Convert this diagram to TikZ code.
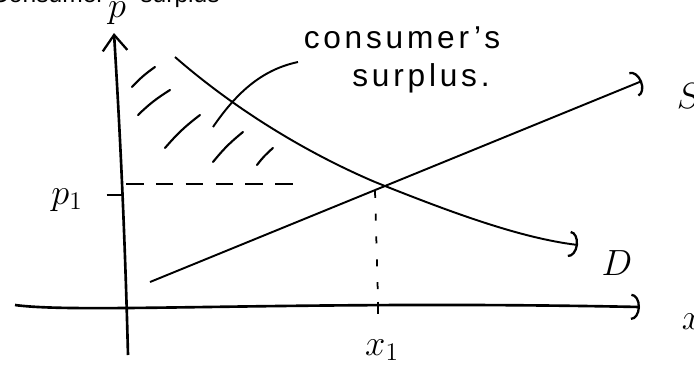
\documentclass[tikz,border=0pt]{standalone}
\usepackage{fontspec}
\setsansfont{Liberation Sans}
\usetikzlibrary{arrows.meta,positioning}
\tikzset{
  axisline/.style={line width=1.5pt},
  curveline/.style={line width=1.1pt},
  arcend/.style={-{Arc Barb[length=5pt,width=15pt,line width=1.3pt]}},
  guide/.style={line width=1pt,dash pattern=on 10pt off 7pt},
  dropguide/.style={line width=1pt,dash pattern=on 4pt off 9pt},
  hatch/.style={line width=1.2pt,line cap=round},
  hand/.style={font=\sffamily\fontsize{18}{20}\selectfont\addfontfeatures{LetterSpace=12}},
  captiontext/.style={font=\sffamily\fontsize{14}{16}\selectfont,inner sep=0pt},
  axislabel/.style={font=\fontsize{20}{22}\selectfont}
}
\newcommand{\hatchstroke}[4]{\draw[hatch] (#1,#2) to[bend left=6] (#3,#4);}

\begin{document}
\begin{tikzpicture}[x=0.02cm,y=-0.02cm]
\useasboundingbox (0,0) rectangle (694,370);
\clip (0,0) rectangle (694,370);
\node[captiontext,anchor=base east] (caption1) at (105,2) {Consumer};
\node[captiontext,anchor=base west] (caption2) at (140,2) {surplus};
\coordinate (ybot) at (128,355);
\coordinate (ytop) at (114,33);
\coordinate (xleft) at (15,305);
\coordinate (xright) at (640,307);
\coordinate (eq) at (375,182);
\coordinate (dstart) at (175,57);
\coordinate (dend) at (578,245);
\coordinate (sstart) at (150,282);
\coordinate (send) at (642,81);
\coordinate (pone) at (119,195);
\coordinate (xone) at (378,307);
\draw[axisline,-{Straight Barb[length=9pt,width=14pt,line width=1.3pt]}] (ybot) .. controls (124,200) and (118,100) .. (ytop);
\draw[axisline,arcend] (xleft) .. controls (80,314) and (300,300) .. (xright);
\draw[line width=1.2pt] ([xshift=-7pt]pone) -- ([xshift=3pt]pone);
\draw[line width=1.2pt] ([yshift=3pt]xone) -- ([yshift=-4pt]xone);
\draw[curveline] (dstart) .. controls (230,105) and (300,150) .. (eq);
\draw[curveline,arcend] (eq) .. controls (450,212) and (520,238) .. (dend);
\draw[curveline,arcend] (sstart) -- (send);
\coordinate (dashstart) at (126,184);
\coordinate (dashend) at (305,184);
\draw[guide] (dashstart) -- (dashend);
\draw[dropguide] ([yshift=-5pt]eq) -- ([yshift=4pt]xone);
\foreach \ax/\ay/\bx/\by in {132/87/155/67, 138/115/170/90, 165/148/200/115, 213/162/243/132, 257/165/273/148}{
  \hatchstroke{\ax}{\ay}{\bx}{\by}
}
\node[hand] (cs1) at (402,38) {consumer's};
\node[hand] (cs2) at (421,78) {surplus.};
\coordinate (leadfoot) at (213,127);
\coordinate (leadtop) at (298,62);
\draw[curveline] (leadfoot) .. controls (235,95) and (260,70) .. (leadtop);
\node[axislabel] (plab) at (117,13) {$p$};
\node[axislabel] (p1lab) at (67,200) {$p_1$};
\node[axislabel] (x1lab) at (382,350) {$x_1$};
\node[axislabel,font=\fontsize{22}{24}\selectfont] (dlab) at (617,263) {$D$};
\node[axislabel,font=\fontsize{22}{24}\selectfont] (slab) at (689,96) {$S$};
\node[axislabel] (xlab) at (692,322) {$x$};
\end{tikzpicture}
\end{document}
